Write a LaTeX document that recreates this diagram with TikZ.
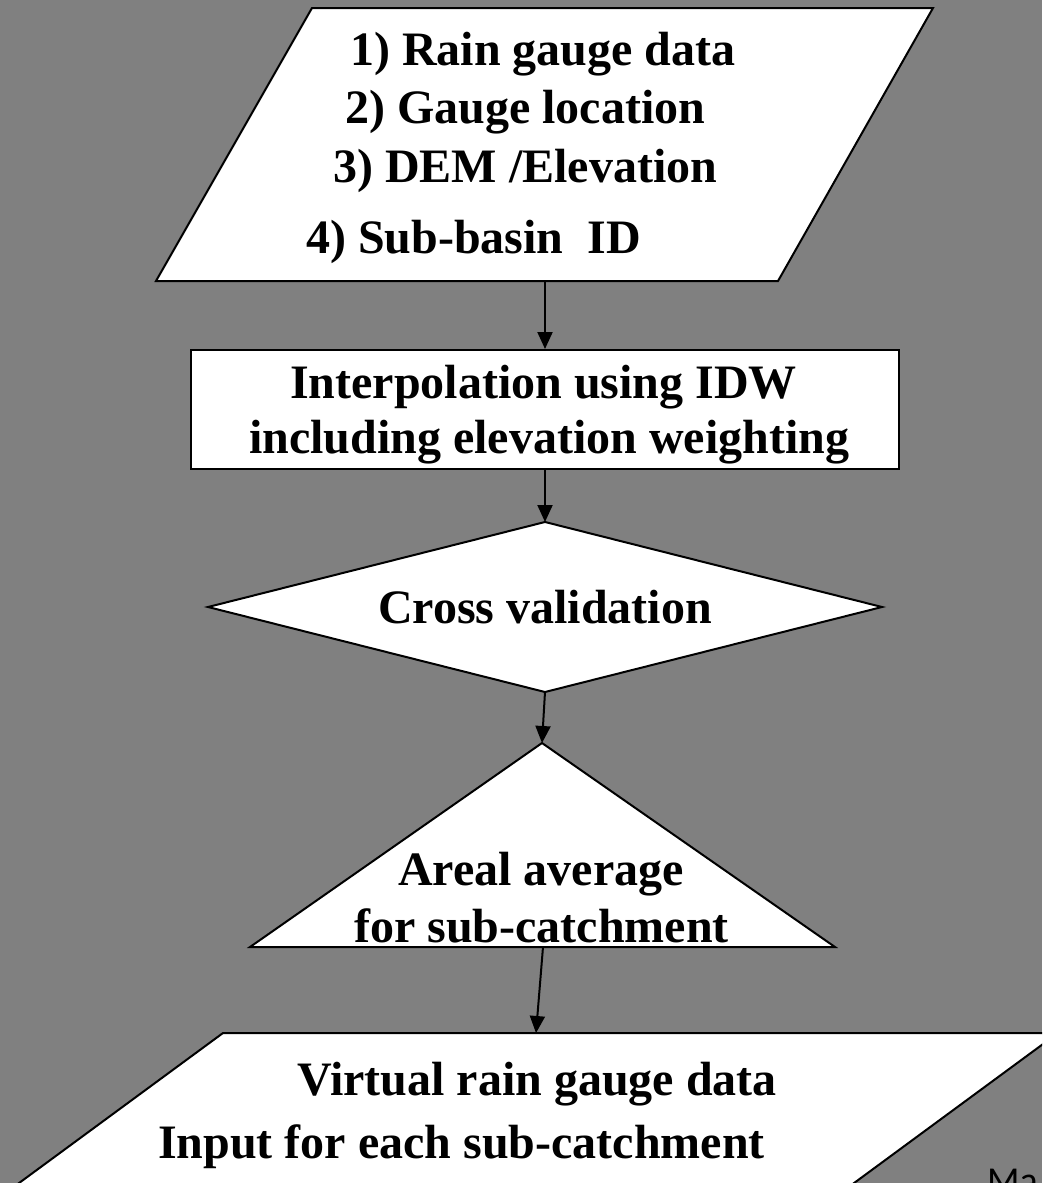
\documentclass[tikz,border=0pt]{standalone}
\usepackage{fontspec}
\setmainfont{Liberation Serif}
\newfontfamily\slidefont{Carlito}
\usetikzlibrary{arrows.meta}
\definecolor{bggray}{HTML}{808080}
\begin{document}
\begin{tikzpicture}[x=1pt,y=-1pt,
  shapebox/.style={draw=black,fill=white,line width=2pt,line join=miter},
  lbl/.style={font=\fontsize{48}{58}\selectfont\bfseries,inner sep=0pt,anchor=base west,text=black},
  conn/.style={draw=black,line width=2pt,-{Triangle[length=17pt,width=15pt]}}]
\useasboundingbox (0,0) rectangle (1042,1183);
\clip (0,0) rectangle (1042,1183);
\fill[bggray] (0,0) rectangle (1042,1183);

% input parallelogram
\draw[shapebox] (312,8) -- (933,8) -- (778,281) -- (156,281) -- cycle;
\coordinate (inB) at (545,281);
\node[lbl] (in1) at (350,65) {1) Rain gauge data};
\node[lbl] (in2) at (345,123) {2) Gauge location};
\node[lbl] (in3) at (333,182) {3) DEM /Elevation};
\node[lbl] (in4) at (306,253) {4) Sub-basin\ \ ID};

% interpolation rectangle
\node[shapebox,rectangle,minimum width=708pt,minimum height=119pt,inner sep=0pt] (interp) at (545,409.5) {};
\node[lbl] (ip1) at (290,398) {Interpolation using IDW};
\node[lbl] (ip2) at (249,453) {including elevation weighting};

% cross validation diamond
\draw[shapebox] (545,522) -- (882,607) -- (545,692) -- (208,607) -- cycle;
\coordinate (dT) at (545,522);
\coordinate (dB) at (545,692);
\node[lbl] (cv) at (378,623) {Cross validation};

% areal average triangle
\draw[shapebox] (542,743) -- (835,947) -- (250,947) -- cycle;
\coordinate (tT) at (542,743);
\coordinate (tB) at (543,947);
\node[lbl] (aa1) at (398,885) {Areal average};
\node[lbl] (aa2) at (354,942) {for sub-catchment};

% output parallelogram
\draw[shapebox] (223,1033) -- (1058,1033) -- (763,1250) -- (-72,1250) -- cycle;
\coordinate (vT) at (536,1033);
\node[lbl] (vr1) at (297,1095) {Virtual rain gauge data};
\node[lbl] (vr2) at (158,1158) {Input for each sub-catchment};

% slide footer fragment (cut off at the edge, as in the reference)
\node[font=\slidefont\fontsize{38}{44}\selectfont,inner sep=0pt,anchor=base west,text=black] (ma) at (987,1193) {Ma};

% connectors
\draw[conn] (inB) -- (interp.north);
\draw[conn] (interp.south) -- (dT);
\draw[conn] (dB) -- (tT);
\draw[conn] (tB) -- (vT);
\end{tikzpicture}
\end{document}
